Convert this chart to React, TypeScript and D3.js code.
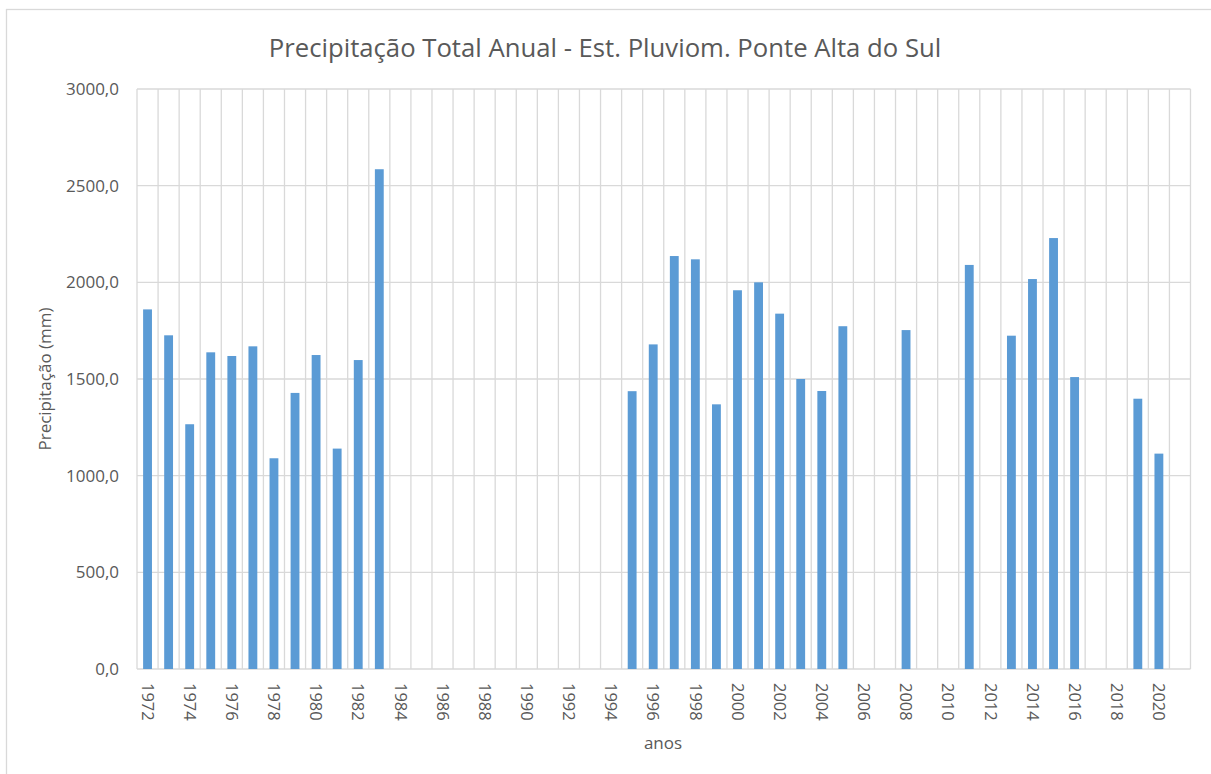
import { useRef, useEffect } from 'react'
import * as d3 from 'd3'

// Annual totals (mm), null where there is no record
const years = [
  1972, 1973, 1974, 1975, 1976, 1977, 1978, 1979, 1980, 1981,
  1982, 1983, 1984, 1985, 1986, 1987, 1988, 1989, 1990, 1991,
  1992, 1993, 1994, 1995, 1996, 1997, 1998, 1999, 2000, 2001,
  2002, 2003, 2004, 2005, 2006, 2007, 2008, 2009, 2010, 2011,
  2012, 2013, 2014, 2015, 2016, 2017, 2018, 2019, 2020, 2021,
]
const precip: (number | null)[] = [
  1860, 1726, 1266, 1638, 1619, 1669, 1090, 1428, 1624, 1140,
  1598, 2585, null, null, null, null, null, null, null, null,
  null, null, null, 1437, 1679, 2136, 2119, 1369, 1959, 2000,
  1838, 1500, 1438, 1773, null, null, 1753, null, null, 2090,
  null, 1724, 2017, 2229, 1510, null, null, 1398, 1114, null,
]
const yTicks = [0, 500, 1000, 1500, 2000, 2500, 3000]

const TITLE = 'Precipitação Total Anual - Est. Pluviom. Ponte Alta do Sul'
const FONT = '"Open Sans", sans-serif'
const TEXT = '#595959'
const GRID = '#d9d9d9'

export default function App() {
  const svgRef = useRef<SVGSVGElement>(null)

  useEffect(() => {
    if (!svgRef.current) return
    const svg = d3.select(svgRef.current)
    svg.selectAll('*').remove()

    const width = 1211
    const height = 774
    const plot = { left: 137, right: 1190.5, top: 89, bottom: 669 }

    // outer chart frame
    svg.append('rect')
      .attr('x', 6.5).attr('y', 9.5)
      .attr('width', width + 10).attr('height', height + 10)
      .style('fill', '#fff').style('stroke', GRID).style('stroke-width', 1.3)

    const x = d3.scaleBand<number>()
      .domain(years)
      .range([plot.left, plot.right])
      .padding(0)

    const y = d3.scaleLinear()
      .domain([0, 3000])
      .range([plot.bottom, plot.top])

    const g = svg.append('g')

    // horizontal grid
    g.selectAll('.hgrid')
      .data(yTicks)
      .enter()
      .append('line')
      .attr('x1', plot.left).attr('x2', plot.right)
      .attr('y1', d => y(d)).attr('y2', d => y(d))
      .style('stroke', GRID).style('stroke-width', 1.3)

    // vertical grid at category boundaries
    const bounds = years.map(d => x(d)!).concat([plot.right])
    g.selectAll('.vgrid')
      .data(bounds)
      .enter()
      .append('line')
      .attr('x1', d => d).attr('x2', d => d)
      .attr('y1', plot.top).attr('y2', plot.bottom)
      .style('stroke', GRID).style('stroke-width', 1.3)

    // bars
    const barW = x.bandwidth() * 0.42
    const rows = years.map((yr, i) => ({ yr, v: precip[i] })).filter(d => d.v != null) as { yr: number, v: number }[]
    g.selectAll('.bar')
      .data(rows)
      .enter()
      .append('rect')
      .attr('x', d => x(d.yr)! + (x.bandwidth() - barW) / 2)
      .attr('y', d => y(d.v))
      .attr('width', barW)
      .attr('height', d => y(0) - y(d.v))
      .style('fill', '#5b9bd5')

    // y tick labels
    g.selectAll('.ylab')
      .data(yTicks)
      .enter()
      .append('text')
      .attr('x', 119)
      .attr('y', d => y(d))
      .attr('dy', '0.35em')
      .attr('text-anchor', 'end')
      .style('fill', TEXT)
      .style('font-size', '17px')
      .style('font-family', FONT)
      .text(d => d3.format('.1f')(d).replace('.', ','))

    // x tick labels, every other year, rotated
    g.selectAll('.xlab')
      .data(years.filter((d, i) => i % 2 === 0))
      .enter()
      .append('text')
      .attr('transform', d => `translate(${x(d)! + x.bandwidth() / 2},683) rotate(90)`)
      .attr('dy', '0.35em')
      .attr('text-anchor', 'start')
      .style('fill', TEXT)
      .style('font-size', '16.5px')
      .style('font-family', FONT)
      .text(d => String(d))

    // titles
    svg.append('text')
      .attr('x', 605).attr('y', 57)
      .attr('text-anchor', 'middle')
      .style('fill', TEXT)
      .style('font-size', '25.7px')
      .style('font-family', FONT)
      .text(TITLE)

    svg.append('text')
      .attr('transform', `translate(51,379) rotate(-90)`)
      .attr('text-anchor', 'middle')
      .style('fill', TEXT)
      .style('font-size', '17px')
      .style('font-family', FONT)
      .text('Precipitação (mm)')

    svg.append('text')
      .attr('x', 663).attr('y', 749)
      .attr('text-anchor', 'middle')
      .style('fill', TEXT)
      .style('font-size', '17px')
      .style('font-family', FONT)
      .text('anos')
  }, [])

  return (
    <svg
      ref={svgRef}
      width={1211}
      height={774}
      style={{ position: 'absolute', left: 0, top: 0, display: 'block' }}
    />
  )
}
